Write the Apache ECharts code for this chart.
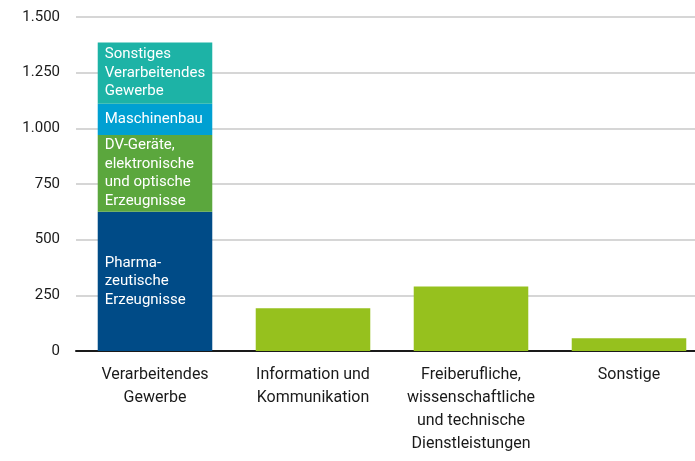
<!DOCTYPE html>
<html>

<head>
    <meta charset="utf-8">
    <script src="https://cdn.jsdelivr.net/npm/echarts@6/dist/echarts.min.js"></script>
    <style>
        html, body { margin: 0; padding: 0; background: #fff; }
    </style>
</head>

<body>
    <div id="main" style="width: 695px;height:461px;"></div>
    <script type="text/javascript">
        // Kategorien (x-Achse)
        var categories = ['Verarbeitendes\nGewerbe', 'Information und\nKommunikation',
            'Freiberufliche,\nwissenschaftliche\nund technische\nDienstleistungen', 'Sonstige'];
        // Segmente des gestapelten Balkens
        var pharma = [625, '-', '-', '-'];
        var dvGeraete = [345, '-', '-', '-'];
        var maschinenbau = [140, '-', '-', '-'];
        var sonstigesVerarb = [275, '-', '-', '-'];
        // übrige Branchen
        var andere = ['-', 192, 290, 57];
        var yTicks = [0, 250, 500, 750, 1000, 1250, 1500];

        var myChart = echarts.init(document.getElementById('main'));
        var fontFam = 'Roboto, "Noto Sans", sans-serif';

        function seg(name, data, color) {
            return {
                name: name,
                type: 'bar',
                stack: 'gesamt',
                data: data,
                barCategoryGap: '27.5%',
                itemStyle: { color: color },
                label: {
                    show: true,
                    position: 'insideLeft',
                    distance: 7,
                    color: '#fff',
                    fontSize: 15,
                    lineHeight: 18.5,
                    fontFamily: fontFam,
                    formatter: function (p) { return p.seriesName; }
                }
            };
        }

        var option = {
            animation: false,
            grid: { left: 76, width: 632, top: 17, bottom: 110, outerBoundsMode: 'none' },
            xAxis: {
                type: 'category',
                data: categories,
                axisLine: { lineStyle: { color: '#1a1a1a', width: 2 } },
                axisTick: { show: false },
                axisLabel: {
                    interval: 0,
                    color: '#1a1a1a',
                    fontSize: 16,
                    lineHeight: 23,
                    margin: 12,
                    fontFamily: fontFam
                }
            },
            yAxis: {
                type: 'value',
                min: yTicks[0],
                max: yTicks[yTicks.length - 1],
                interval: 250,
                axisLine: { show: false },
                axisTick: { show: false },
                splitLine: { lineStyle: { color: '#c8c8c8', width: 1.5 } },
                axisLabel: {
                    color: '#1a1a1a',
                    fontSize: 15,
                    margin: 16,
                    fontFamily: fontFam,
                    formatter: function (v) {
                        return String(v).replace(/\B(?=(\d{3})+(?!\d))/g, '.');
                    }
                }
            },
            series: [
                seg('Pharma-\nzeutische\nErzeugnisse', pharma, '#004B87'),
                seg('DV-Geräte,\nelektronische\nund optische\nErzeugnisse', dvGeraete, '#5BA73D'),
                seg('Maschinenbau', maschinenbau, '#00A0D2'),
                seg('Sonstiges\nVerarbeitendes\nGewerbe', sonstigesVerarb, '#1DB3A6'),
                {
                    name: 'Andere',
                    type: 'bar',
                    stack: 'gesamt',
                    data: andere,
                    itemStyle: { color: '#96C11E' }
                }
            ]
        };

        myChart.setOption(option);
    </script>
</body>

</html>
